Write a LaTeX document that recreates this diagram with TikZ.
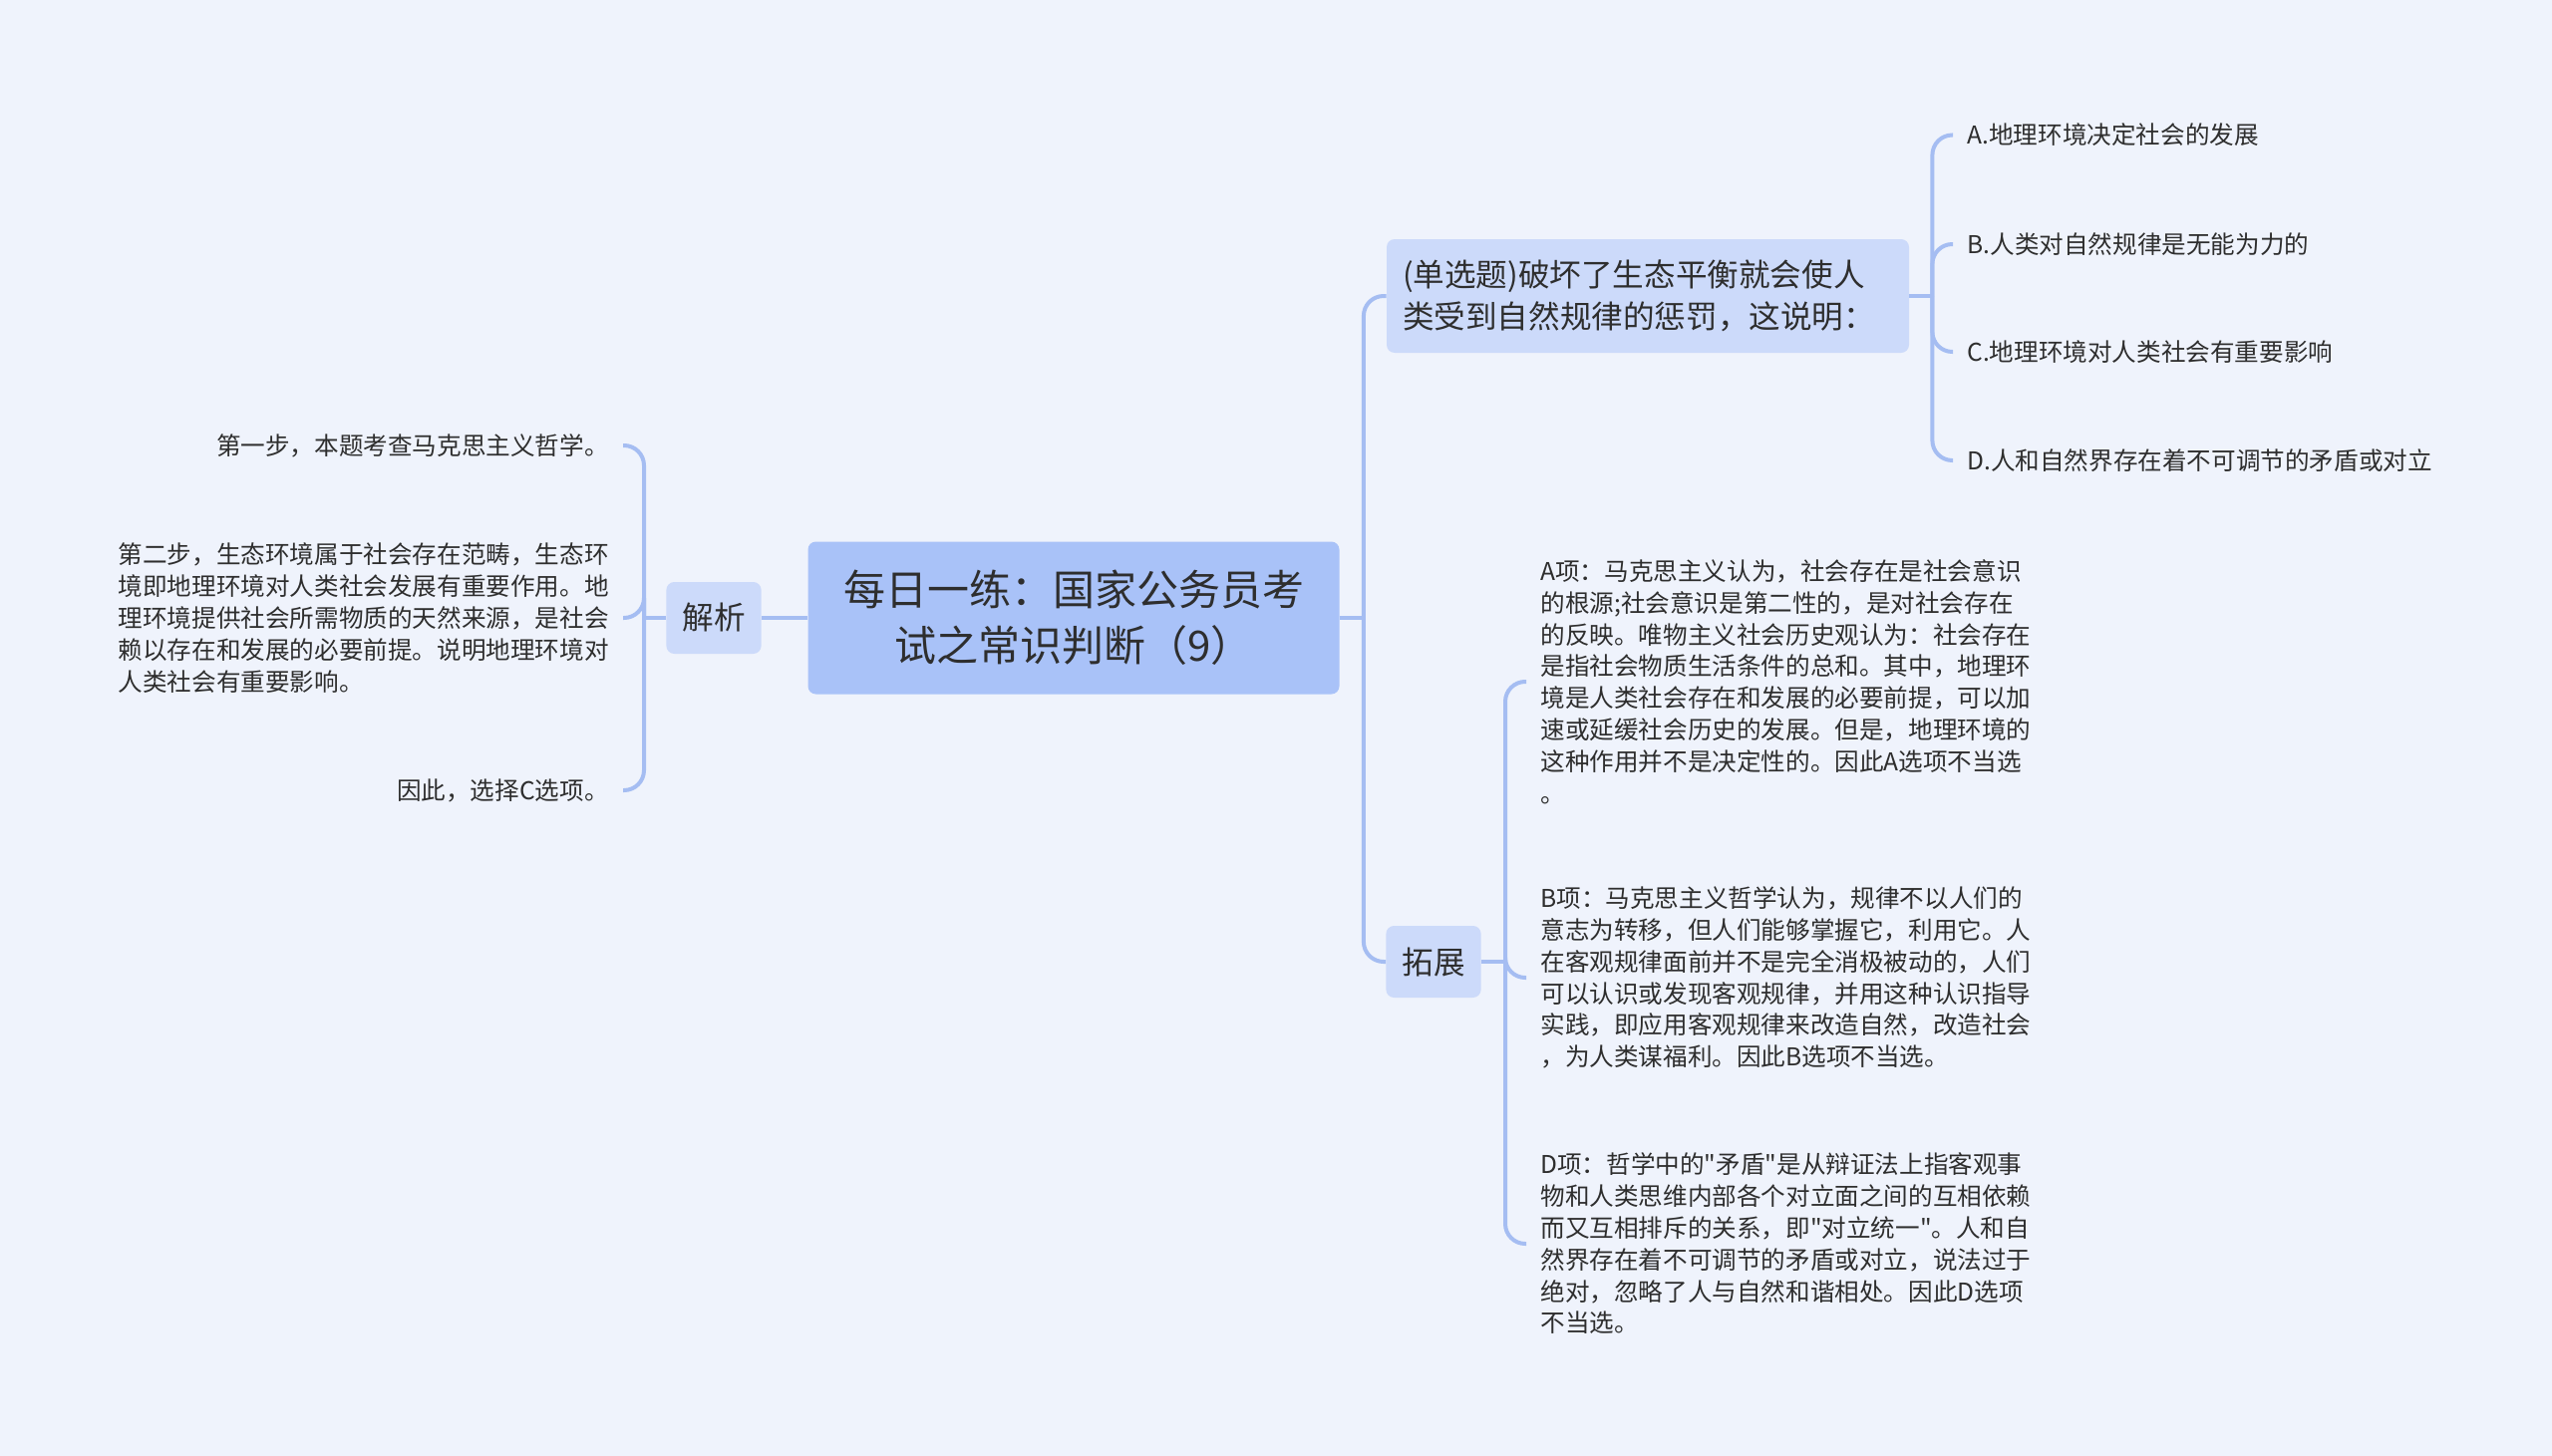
\documentclass[tikz,border=0pt]{standalone}
\usepackage{fontspec}
\newfontfamily\cjk{Noto Sans CJK SC}
\usetikzlibrary{positioning}
\definecolor{paper}{HTML}{EFF3FC}
\definecolor{rootblue}{HTML}{A9C2F8}
\definecolor{subblue}{HTML}{CCDAFA}
\definecolor{linkblue}{HTML}{A5BDF2}
\definecolor{ink}{HTML}{2E2E2E}
\newcommand{\Px}{0.5pt}
\tikzset{Root/.style={
    fill=rootblue,
    rounded corners=4pt,
    minimum width=266.5pt,
    minimum height=76.5pt,
    align=center,
    text=ink,
    font=\cjk\fontsize{21}{27.8}\selectfont,
    },
  Topic/.style={
    fill=subblue,
    rounded corners=4pt,
    inner xsep=8pt,
    text=ink,
    font=\cjk\fontsize{15.8}{21}\selectfont,
    },
  Leaf/.style={
    inner xsep=7pt,
    inner ysep=2pt,
    align=left,
    text=ink,
    font=\cjk\fontsize{12.3}{15.9}\selectfont,
    }
}

\begin{document}
\begin{tikzpicture}[x=\Px, y=-\Px,
    Link/.style={draw=linkblue, line width=2pt, rounded corners=10pt},
]
\useasboundingbox (0,0) rectangle (2560,1461);
\fill[paper] (0,0) rectangle (2560,1461);
% centre and the two topics of the left / right side
\node [Root] (root) at (1077,620) {每日一练：国家公务员考\\试之常识判断（9）};
\node [Topic, minimum width=46.5pt, minimum height=36pt] (jx) at (716,620) {解析};
\node [Topic, text width=246pt, minimum height=57pt, align=left] (q) at (1653,297)
    {(单选题)破坏了生态平衡就会使人\\类受到自然规律的惩罚，这说明：};
\node [Topic, minimum width=47.5pt, minimum height=36pt] (tz) at (1438,965) {拓展};
\coordinate [left=11pt of jx] (jxfork);
\coordinate [right=12pt of root] (rfork);
\coordinate [right=11.5pt of q] (qfork);
\coordinate [right=12pt of tz] (tzfork);
% left leaves
\node [Leaf, anchor=east] (s1) at (625,447) {第一步，本题考查马克思主义哲学。};
\node [Leaf, anchor=east] (s2) at (625,620) {第二步，生态环境属于社会存在范畴，生态环\\境即地理环境对人类社会发展有重要作用。地\\理环境提供社会所需物质的天然来源，是社会\\赖以存在和发展的必要前提。说明地理环境对\\人类社会有重要影响。};
\node [Leaf, anchor=east] (s3) at (625,793) {因此，选择C选项。};
% options
\node [Leaf, anchor=west] (oa) at (1959,135.5) {A.地理环境决定社会的发展};
\node [Leaf, anchor=west] (ob) at (1959,245) {B.人类对自然规律是无能为力的};
\node [Leaf, anchor=west] (oc) at (1959,353) {C.地理环境对人类社会有重要影响};
\node [Leaf, anchor=west] (od) at (1959,462) {D.人和自然界存在着不可调节的矛盾或对立};
% extension leaves
\node [Leaf, anchor=west] (ea) at (1531,684) {A项：马克思主义认为，社会存在是社会意识\\的根源;社会意识是第二性的，是对社会存在\\的反映。唯物主义社会历史观认为：社会存在\\是指社会物质生活条件的总和。其中，地理环\\境是人类社会存在和发展的必要前提，可以加\\速或延缓社会历史的发展。但是，地理环境的\\这种作用并不是决定性的。因此A选项不当选\\。};
\node [Leaf, anchor=west] (eb) at (1531,981) {B项：马克思主义哲学认为，规律不以人们的\\意志为转移，但人们能够掌握它，利用它。人\\在客观规律面前并不是完全消极被动的，人们\\可以认识或发现客观规律，并用这种认识指导\\实践，即应用客观规律来改造自然，改造社会\\，为人类谋福利。因此B选项不当选。};
\node [Leaf, anchor=west] (ed) at (1531,1248) {D项：哲学中的"矛盾"是从辩证法上指客观事\\物和人类思维内部各个对立面之间的互相依赖\\而又互相排斥的关系，即"对立统一"。人和自\\然界存在着不可调节的矛盾或对立，说法过于\\绝对，忽略了人与自然和谐相处。因此D选项\\不当选。};
% connectors
\draw [Link] (root.west) -- (jx.east);
\draw [Link] (jx.west) -- (jxfork);
\foreach \n in {s1,s2,s3} \draw [Link] (jxfork) |- (\n.east);
\draw [Link] (root.east) -- (rfork);
\foreach \n in {q,tz} \draw [Link] (rfork) |- (\n.west);
\draw [Link] (q.east) -- (qfork);
\foreach \n in {oa,ob,oc,od} \draw [Link] (qfork) |- (\n.west);
\draw [Link] (tz.east) -- (tzfork);
\foreach \n in {ea,eb,ed} \draw [Link] (tzfork) |- (\n.west);
\end{tikzpicture}
\end{document}
